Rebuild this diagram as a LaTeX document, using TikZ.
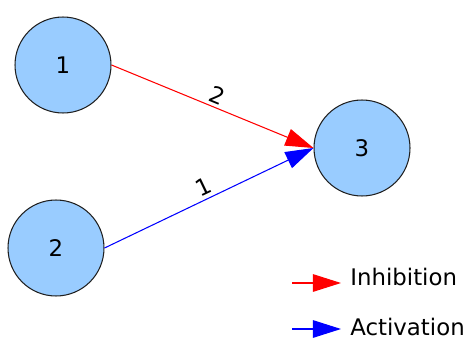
\documentclass[tikz,border=0pt]{standalone}
\usepackage{fontspec}
\setmainfont{DejaVu Sans}
\usepackage{tikz}
\usetikzlibrary{arrows.meta}
\definecolor{GeneFill}{HTML}{99CCFF}
\definecolor{GeneFrame}{HTML}{202020}
\definecolor{InhRed}{HTML}{FF0000}
\definecolor{ActBlue}{HTML}{0000FF}

\begin{document}
\begin{tikzpicture}[x=0.02cm, y=-0.02cm,
    every node/.style={font=\fontsize{13}{15}\selectfont},
    gene/.style={draw=GeneFrame, circle, minimum size=1.92cm, inner sep=0pt,
      line width=0.6pt, fill=GeneFill},
    inhib/.style={InhRed, line width=0.6pt, -{Triangle[length=16pt,width=10pt]}},
    activ/.style={ActBlue, line width=0.6pt, -{Triangle[length=16pt,width=10pt]}},
    weight/.style={midway, above, sloped, inner sep=2pt, text=black}]
  \useasboundingbox (0,0) rectangle (466,338);
  \node[gene] (n1) at (63,65) {1};
  \node[gene] (n2) at (56,248) {2};
  \node[gene] (n3) at (362,148) {3};
  \draw[inhib] (n1.east) -- (n3.west) node[weight] {2};
  \draw[activ] (n2.east) -- (n3.west) node[weight] {1};
  % legend
  \coordinate (inhS) at (292,283);
  \coordinate (inhE) at (341,283);
  \coordinate (actS) at (292,329);
  \coordinate (actE) at (341,329);
  \draw[inhib] (inhS) -- (inhE);
  \draw[activ] (actS) -- (actE);
  \node[anchor=base west, inner sep=0pt] (inhTxt) at (350,285) {Inhibition};
  \node[anchor=base west, inner sep=0pt] (actTxt) at (350,335) {Activation};
\end{tikzpicture}
\end{document}
